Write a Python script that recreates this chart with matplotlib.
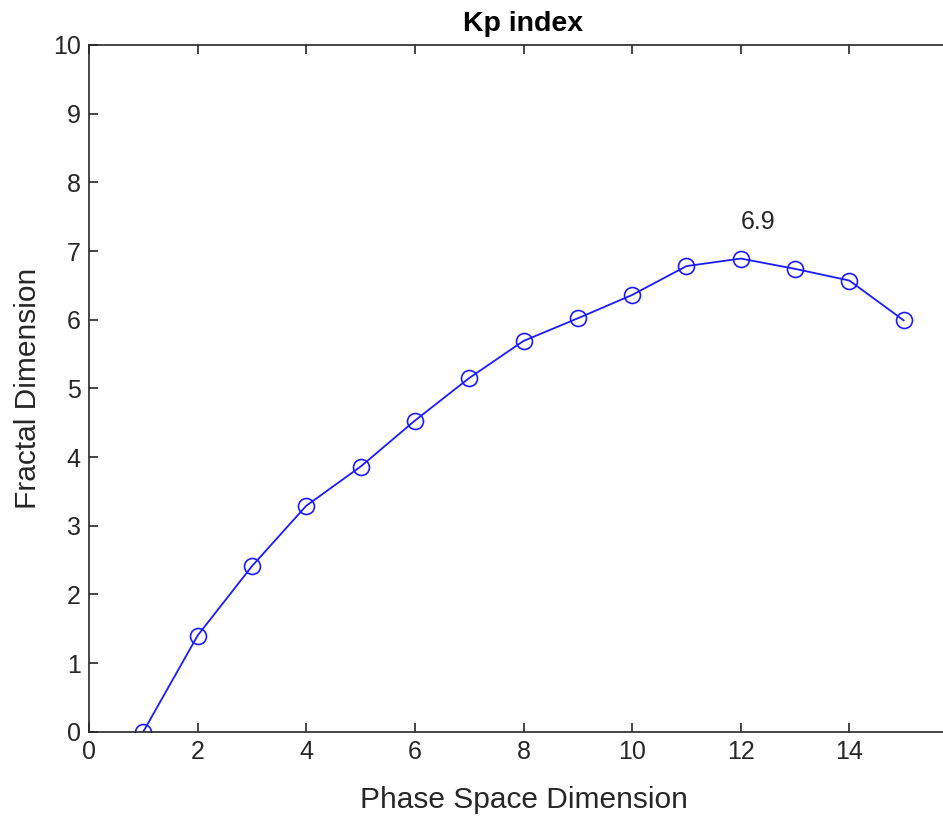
import matplotlib
matplotlib.use("Agg")
import matplotlib.pyplot as plt

plt.rcParams['font.family'] = ['Liberation Sans', 'DejaVu Sans']

dims = [1, 2, 3, 4, 5, 6, 7, 8, 9, 10, 11, 12, 13, 14, 15]
fractal = [0.0, 1.40, 2.41, 3.29, 3.86, 4.53, 5.15, 5.69, 6.02, 6.36, 6.78, 6.89, 6.74, 6.57, 5.99]
peak_label = "6.9"

grey = '#262626'

fig = plt.figure(figsize=(9.43, 8.22), dpi=100)
# axes runs past the right edge, like the cropped original
ax = fig.add_axes([89 / 943, 1 - 731.7 / 822, 869 / 943, 686.7 / 822])

ax.plot(dims, fractal, color='#1a1aff', linewidth=1.3, marker='o',
        markersize=11.5, markerfacecolor='none', markeredgecolor='#1a1aff',
        markeredgewidth=1.2)
ax.text(12, 7.42, peak_label, fontsize=18, color=grey, ha='left', va='center')

ax.set_xlim(0, 16)
ax.set_ylim(0, 10)
ax.set_xticks(range(0, 16, 2))
ax.set_yticks(range(0, 11))

ax.set_title("Kp index", fontsize=20.5, fontweight='bold', color='black', pad=10)
ax.set_xlabel("Phase Space Dimension", fontsize=21.5, color=grey, labelpad=16)
ax.set_ylabel("Fractal Dimension", fontsize=21.5, color=grey, labelpad=8)

ax.tick_params(direction='in', length=6.5, width=1.2, colors=grey,
               labelsize=18, top=True, right=True, pad=6)
for s in ax.spines.values():
    s.set_color(grey)
    s.set_linewidth(1.2)

fig.savefig("out.png", dpi=100)
